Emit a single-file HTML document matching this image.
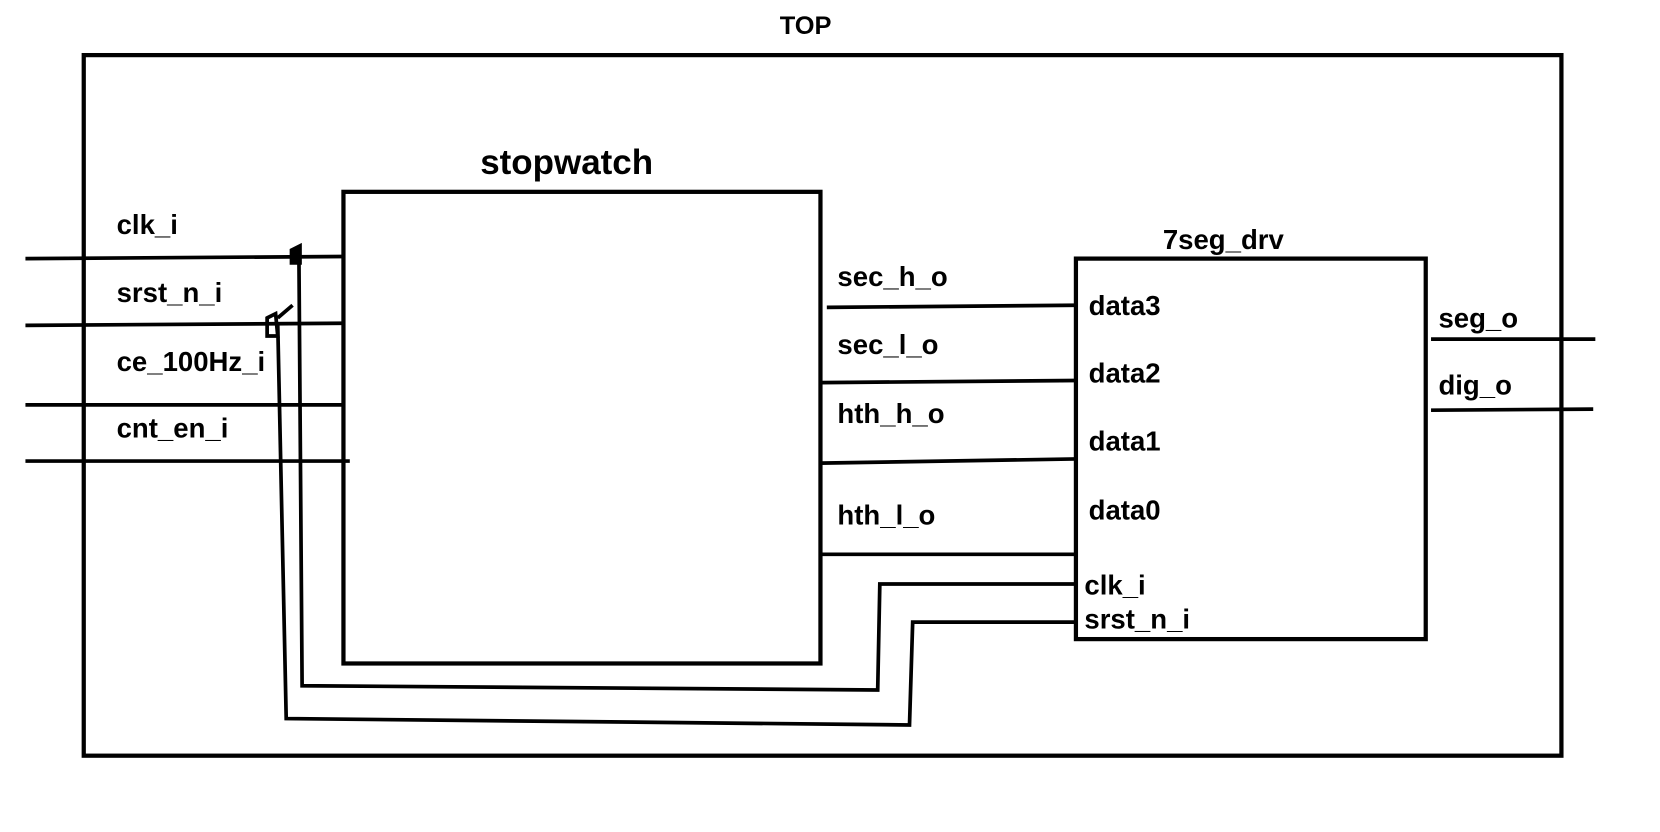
<!DOCTYPE html>
<html><head><meta charset="utf-8"><style>
html,body{margin:0;padding:0;background:#fff;width:1660px;height:832px;overflow:hidden}
svg{display:block}
text{font-family:"Liberation Sans",Arial,sans-serif;font-weight:bold;fill:#000}
</style></head><body>
<svg width="1660" height="832" viewBox="0 0 1566 785" preserveAspectRatio="none" xmlns="http://www.w3.org/2000/svg">
<g fill="none" stroke="#000" stroke-width="4">
<rect x="79" y="52" width="1394" height="661"/>
<rect x="324" y="181" width="450" height="445"/>
<rect x="1015" y="244" width="330" height="359"/>
</g>
<g fill="none" stroke="#000" stroke-width="3.5">
<polyline points="24,244 324,242"/>
<polyline points="24,307 324,305"/>
<polyline points="24,382 324,382"/>
<polyline points="24,435 330,435"/>
<polyline points="282,242 285,647 828,651 830,551 1015,551"/>
<polyline points="262,305 270,678 858,684 861,587 1015,587"/>
<polyline points="780,290 1015,288"/>
<polyline points="774,361 1015,359"/>
<polyline points="774,437 1015,433"/>
<polyline points="774,523 1015,523"/>
<polyline points="1350,320 1505,320"/>
<polyline points="1350,387 1503,386"/>
<path d="M275,236 L283,232 L283,248 L275,248 Z" fill="#000"/>
<path d="M252,300 L260,296 L262,317 L252,317 Z M262,300 L276,288"/>
</g>
<text x="760" y="32" font-size="24" text-anchor="middle">TOP</text>
<text x="453" y="164" font-size="33">stopwatch</text>
<text x="1097" y="235" font-size="26">7seg_drv</text>
<g font-size="26">
<text x="110" y="221">clk_i</text>
<text x="110" y="285">srst_n_i</text>
<text x="110" y="350">ce_100Hz_i</text>
<text x="110" y="413">cnt_en_i</text>
<text x="790" y="270">sec_h_o</text>
<text x="790" y="334">sec_l_o</text>
<text x="790" y="399">hth_h_o</text>
<text x="790" y="495">hth_l_o</text>
<text x="1027" y="297">data3</text>
<text x="1027" y="361">data2</text>
<text x="1027" y="425">data1</text>
<text x="1027" y="490">data0</text>
<text x="1023" y="561">clk_i</text>
<text x="1023" y="593">srst_n_i</text>
<text x="1357" y="309">seg_o</text>
<text x="1357" y="372">dig_o</text>
</g>
</svg>
</body></html>
